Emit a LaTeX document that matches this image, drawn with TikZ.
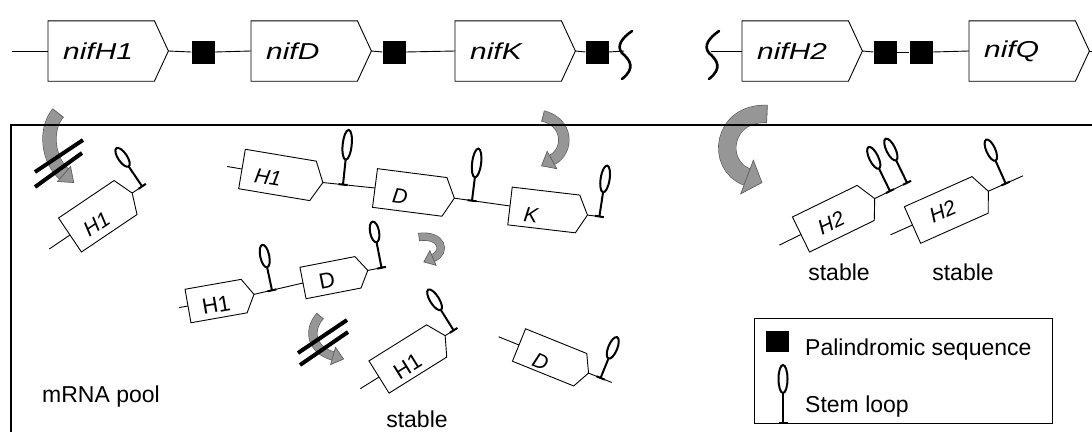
\documentclass[tikz,border=0pt]{standalone}
\usepackage{fontspec}
\setmainfont{Liberation Sans}
\usetikzlibrary{calc}
\definecolor{arrowgray}{RGB}{150,150,150}
\definecolor{arrowedge}{RGB}{85,85,85}

\tikzset{
  geneline/.style={draw=black, line width=0.9pt, fill=white, line join=miter},
  axisline/.style={draw=black, line width=0.9pt},
  topbox/.style={draw=none, minimum width=106pt, minimum height=60pt, inner sep=0pt},
  toplab/.style={anchor=west, inner sep=0pt, font=\fontsize{23}{26}\selectfont\itshape},
  palin/.style={fill=black, draw=none, minimum width=23pt, minimum height=23pt, inner sep=0pt},
  stemstroke/.style={draw=black, line width=2pt},
  squiggle/.style={draw=black, line width=2.6pt, line cap=round},
  poollab/.style={inner sep=0pt, transform shape, font=\fontsize{21}{23}\selectfont},
  bodytext/.style={inner sep=0pt, font=\fontsize{23}{26}\selectfont},
  crossbar/.style={draw=black, line width=4pt},
  bandedge/.style={draw=arrowedge},
  bandfill/.style={draw=arrowgray},
  bandhead/.style={fill=arrowgray, draw=arrowedge, line width=0.6pt, line join=miter},
}

% grey curved arrow: band width, head half width, head length, start, control 1, control 2, end
\newcommand\fatarrow[7]{%
  \draw[bandedge, line width=#1pt+1.2pt] (#4) .. controls (#5) and (#6) .. (#7);
  \draw[bandfill, line width=#1pt] (#4) .. controls (#5) and (#6) .. (#7);
  \draw[bandedge, line width=0.6pt] ($(#4)!{0.5*#1pt+0.6pt}!90:(#5)$) -- ($(#4)!{0.5*#1pt+0.6pt}!-90:(#5)$);
  \filldraw[bandhead] ($(#7)!#2pt!90:(#6)$) -- ($(#7)!-#3pt!(#6)$) -- ($(#7)!#2pt!-90:(#6)$) -- cycle;}

% stem loop: base x, base y, stem length, loop half height, tilt
\newcommand\stemloop[5]{%
  \begin{scope}[shift={(#1,#2)},rotate=#5]
    \draw[stemstroke] (-4.5,0) -- (4.5,0) (0,0) -- (0,-#3);
    \draw[stemstroke] (0,-#3-#4) ellipse [x radius=4.5, y radius=#4];
  \end{scope}}

% gene of the operon: name, left x, label
\newcommand\topgene[3]{%
  \node[topbox, anchor=west] (#1) at (#2,51) {};
  \draw[geneline] (#1.north west) -- (#1.north east) -- ([xshift=14]#1.east) coordinate (#1tip)
    -- (#1.south east) -- (#1.south west) -- cycle;
  \node[toplab] (#1lab) at ([xshift=15]#1.west) {\scalebox{1.3}[1]{#3}};}

\begin{document}
\begin{tikzpicture}[x=1pt,y=-1pt]
\useasboundingbox (0,0) rectangle (1092,431);

% ---------- operon ----------
\coordinate (opstart) at (12,51);
\topgene{gH}{48}{nifH1}
\topgene{gD}{251}{nifD}
\topgene{gK}{455}{nifK}
\topgene{gHb}{742}{nifH2}
\topgene{gQ}{969}{nifQ}
\node[palin] (p1) at (203,52) {};
\node[palin] (p2) at (394,52) {};
\node[palin] (p3) at (597,52) {};
\node[palin] (p4) at (885,52) {};
\node[palin] (p5) at (921,52) {};
\draw[squiggle] (632,31) .. controls (622,38) and (616,46) .. (622,53) .. controls (630,60) and (636,68) .. (622,79);
\draw[squiggle] (719,31) .. controls (709,38) and (703,46) .. (709,53) .. controls (717,60) and (723,68) .. (709,79);
\coordinate (brk1) at (624,51);
\coordinate (brk2) at (711,51);
\coordinate (opend) at (1096,51);
\draw[axisline] (opstart) -- (gH.west);
\draw[axisline] (gHtip) -- (p1.west);
\draw[axisline] (p1.east) -- (gD.west);
\draw[axisline] (gDtip) -- (p2.west);
\draw[axisline] (p2.east) -- (gK.west);
\draw[axisline] (gKtip) -- (p3.west);
\draw[axisline] (p3.east) -- (brk1);
\draw[axisline] (brk2) -- (gHb.west);
\draw[axisline] (gHbtip) -- (p4.west);
\draw[axisline] (p4.east) -- (p5.west);
\draw[axisline] (p5.east) -- (gQ.west);
\draw[axisline] (gQtip) -- (opend);

% ---------- curved arrows ----------
\fatarrow{13}{10}{13}{58,113}{44,130}{48,160}{64,174}
\fatarrow{10}{10}{12}{543,116}{568,122}{570,150}{552,160}
\fatarrow{17}{18}{16}{767,114}{722,112}{715,165}{747,177}
\fatarrow{7}{8}{10}{419,237}{442,234}{447,252}{433,258}
\fatarrow{8}{9}{11}{320,316}{307,331}{312,350}{333,356}
\draw[crossbar] (35,172) -- (83,140);
\draw[crossbar] (35,187) -- (82,153);
\draw[crossbar] (298,353) -- (347,320);
\draw[crossbar] (300,365) -- (348,332);

% ---------- mRNA pool frame ----------
\draw[line width=2pt] (1100,125) -- (11,125) -- (11,440);

% single H1 transcript, left
\begin{scope}[shift={(70,235)},rotate=34]
  \draw[axisline] (-25,0) -- (0,0);
  \draw[geneline] (0,-20.5) -- (67,-20.5) -- (75,0) -- (67,20.5) -- (0,20.5) -- cycle;
  \draw[axisline] (75,0) -- (90,0);
  \node[poollab] (lh1) at (28,6) {\itshape H1};
  \stemloop{87}{0}{24}{11}{0}
\end{scope}

% H1-D-K transcript
\begin{scope}[shift={(242,169)},rotate=-9.5]
  \draw[axisline] (-15,0) -- (0,0);
  \draw[geneline] (0,-20) -- (72,-20) -- (82,0) -- (72,20) -- (0,20) -- cycle;
  \coordinate (c1a) at (82,0);
  \node[poollab] (c1h1) at (27,4) {\itshape H1};
\end{scope}
\begin{scope}[shift={(375,188)},rotate=-7.3]
  \draw[geneline] (0,-19.5) -- (70,-19.5) -- (80,0) -- (70,19.5) -- (0,19.5) -- cycle;
  \coordinate (c1b) at (0,0);
  \coordinate (c1c) at (80,0);
  \node[poollab] (c1d) at (26,5) {\itshape D};
\end{scope}
\begin{scope}[shift={(510,206)},rotate=-6.7]
  \draw[geneline] (0,-19) -- (68,-19) -- (78,0) -- (68,19) -- (0,19) -- cycle;
  \coordinate (c1e) at (0,0);
  \coordinate (c1f) at (78,0);
  \coordinate (c1g) at (94,0);
  \node[poollab] (c1k) at (22,7) {\itshape K};
  \stemloop{90}{0}{24.5}{13.5}{-2}
\end{scope}
\draw[axisline] (c1a) -- (c1b);
\draw[axisline] (c1c) -- (c1e);
\draw[axisline] (c1f) -- (c1g);
\stemloop{343}{184.6}{25}{15}{-6}
\stemloop{472}{200.7}{23.5}{14.5}{-7}

% H1-D transcript
\begin{scope}[shift={(188,306)},rotate=10]
  \draw[axisline] (-9,0) -- (0,0);
  \draw[geneline] (0,-17) -- (57,-17) -- (67,0) -- (57,17) -- (0,17) -- cycle;
  \coordinate (c2a) at (67,0);
  \node[poollab, font=\fontsize{22}{24}\selectfont] (c2h1) at (28,4) {H1};
\end{scope}
\begin{scope}[shift={(303,283)},rotate=11]
  \draw[geneline] (0,-16) -- (56,-16) -- (66,0) -- (56,16) -- (0,16) -- cycle;
  \coordinate (c2b) at (0,0);
  \coordinate (c2c) at (66,0);
  \coordinate (c2d) at (84,0);
  \node[poollab, font=\fontsize{22}{24}\selectfont] (c2dl) at (24,2) {D};
  \stemloop{80}{0}{26}{10.5}{0}
\end{scope}
\draw[axisline] (c2a) -- (c2b);
\draw[axisline] (c2c) -- (c2d);
\stemloop{272}{290.3}{23.5}{11.5}{12}

% processed H1
\begin{scope}[shift={(379,377)},rotate=32]
  \draw[axisline] (-22,0) -- (0,0);
  \draw[geneline] (0,-19) -- (68,-19) -- (78,0) -- (68,19) -- (0,19) -- cycle;
  \draw[axisline] (78,0) -- (92,0);
  \node[poollab, font=\fontsize{22}{24}\selectfont] (ph1) at (30,6) {H1};
  \stemloop{88}{0}{24}{12}{0}
\end{scope}
\node[bodytext, anchor=base] (st1) at (417,427) {stable};

% processed D
\begin{scope}[shift={(519,345)},rotate=-22]
  \draw[axisline] (-22,0) -- (0,0);
  \draw[geneline] (0,-17.5) -- (66,-17.5) -- (75,0) -- (66,17.5) -- (0,17.5) -- cycle;
  \draw[axisline] (75,0) -- (100,0);
  \node[poollab] (pd) at (26,7) {\itshape D};
  \stemloop{88}{0}{21}{11.5}{0}
\end{scope}

% H2 transcripts
\begin{scope}[shift={(801,234.5)},rotate=26]
  \draw[axisline] (-24,0) -- (0,0);
  \draw[geneline] (0,-19.5) -- (72,-19.5) -- (82,0) -- (72,19.5) -- (0,19.5) -- cycle;
  \draw[axisline] (82,0) -- (122,0);
  \node[poollab] (h2a) at (32,3) {\itshape H2};
  \stemloop{99}{0}{25}{12}{0}
  \stemloop{118}{0}{25}{12}{0}
\end{scope}
\begin{scope}[shift={(912.5,225)},rotate=24]
  \draw[axisline] (-24,0) -- (0,0);
  \draw[geneline] (0,-20) -- (74,-20) -- (83,0) -- (74,20) -- (0,20) -- cycle;
  \draw[axisline] (83,0) -- (121,0);
  \node[poollab] (h2b) at (33,0) {\itshape H2};
  \stemloop{102}{0}{25}{11.5}{0}
\end{scope}
\node[bodytext, anchor=base] (st2) at (839,280) {stable};
\node[bodytext, anchor=base] (st3) at (963,280) {stable};

\node[bodytext, anchor=base west] (pool) at (42,402) {mRNA pool};

% ---------- legend ----------
\node[draw, line width=1pt, minimum width=298pt, minimum height=105pt, inner sep=0pt, anchor=north west] (legend) at (754,318) {};
\node[palin, minimum height=21pt] (lpal) at (777.5,341.5) {};
\node[bodytext, anchor=base west] (lpaltxt) at (805,355) {Palindromic sequence};
\stemloop{783}{423}{30}{14}{0}
\node[bodytext, anchor=base west] (lsltxt) at (805,412) {Stem loop};
\end{tikzpicture}
\end{document}
